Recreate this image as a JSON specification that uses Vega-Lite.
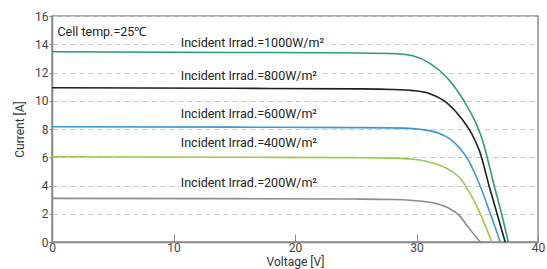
{
  "$schema": "https://vega.github.io/schema/vega-lite/v6.json",
  "autosize": "none",
  "width": 486,
  "height": 226,
  "padding": {"left": 52, "top": 16, "right": 9, "bottom": 27},
  "background": "white",
  "config": {
    "font": "Roboto",
    "view": {"stroke": "#8a8a8a", "strokeWidth": 1.5},
    "axis": {"labelOverlap": false, "labelFlush": false}
  },
  "datasets": {
    "curves": [
      {"series": "1000", "v": 0, "i": 13.47}, {"series": "1000", "v": 15, "i": 13.42}, {"series": "1000", "v": 25, "i": 13.38}, {"series": "1000", "v": 28.4, "i": 13.33}, {"series": "1000", "v": 29.7, "i": 13.18}, {"series": "1000", "v": 31.1, "i": 12.65}, {"series": "1000", "v": 32.5, "i": 11.65}, {"series": "1000", "v": 33.9, "i": 10.0}, {"series": "1000", "v": 34.95, "i": 8.3}, {"series": "1000", "v": 35.4, "i": 7.3}, {"series": "1000", "v": 36.4, "i": 3.97}, {"series": "1000", "v": 37.0, "i": 2.0}, {"series": "1000", "v": 37.55, "i": 0},
      {"series": "800", "v": 0, "i": 10.92}, {"series": "800", "v": 15, "i": 10.88}, {"series": "800", "v": 25, "i": 10.84}, {"series": "800", "v": 28, "i": 10.8}, {"series": "800", "v": 29.7, "i": 10.72}, {"series": "800", "v": 31.1, "i": 10.5}, {"series": "800", "v": 32.5, "i": 9.85}, {"series": "800", "v": 33.7, "i": 8.75}, {"series": "800", "v": 34.7, "i": 7.4}, {"series": "800", "v": 35.2, "i": 6.4}, {"series": "800", "v": 36.0, "i": 3.9}, {"series": "800", "v": 37.3, "i": 0},
      {"series": "600", "v": 0, "i": 8.16}, {"series": "600", "v": 15, "i": 8.13}, {"series": "600", "v": 25, "i": 8.1}, {"series": "600", "v": 29, "i": 8.06}, {"series": "600", "v": 30.3, "i": 7.98}, {"series": "600", "v": 31.9, "i": 7.68}, {"series": "600", "v": 32.9, "i": 7.2}, {"series": "600", "v": 33.6, "i": 6.6}, {"series": "600", "v": 34.3, "i": 5.75}, {"series": "600", "v": 35.2, "i": 4.05}, {"series": "600", "v": 36.0, "i": 2.2}, {"series": "600", "v": 36.9, "i": 0},
      {"series": "400", "v": 0, "i": 6.04}, {"series": "400", "v": 15, "i": 6.0}, {"series": "400", "v": 25, "i": 5.97}, {"series": "400", "v": 28, "i": 5.94}, {"series": "400", "v": 29.7, "i": 5.86}, {"series": "400", "v": 31.1, "i": 5.65}, {"series": "400", "v": 32.5, "i": 5.2}, {"series": "400", "v": 33.6, "i": 4.5}, {"series": "400", "v": 34.5, "i": 3.3}, {"series": "400", "v": 35.3, "i": 1.9}, {"series": "400", "v": 36.2, "i": 0},
      {"series": "200", "v": 0, "i": 3.09}, {"series": "200", "v": 15, "i": 3.07}, {"series": "200", "v": 25, "i": 3.04}, {"series": "200", "v": 28, "i": 3.01}, {"series": "200", "v": 31.1, "i": 2.82}, {"series": "200", "v": 32.6, "i": 2.42}, {"series": "200", "v": 33.5, "i": 1.9}, {"series": "200", "v": 34.3, "i": 1.0}, {"series": "200", "v": 35.25, "i": 0}
    ],
    "labels": [
      {"label": "Incident Irrad.=1000W/m²", "v": 10.6, "i": 14.07},
      {"label": "Incident Irrad.=800W/m²", "v": 10.6, "i": 11.73},
      {"label": "Incident Irrad.=600W/m²", "v": 10.6, "i": 9.06},
      {"label": "Incident Irrad.=400W/m²", "v": 10.6, "i": 6.99},
      {"label": "Incident Irrad.=200W/m²", "v": 10.6, "i": 4.16}
    ],
    "note": [
      {"label": "Cell temp.=25℃", "v": 0.45, "i": 14.89}
    ]
  },
  "encoding": {
    "x": {
      "field": "v", "type": "quantitative",
      "scale": {"domain": [0, 40], "nice": false, "zero": false},
      "axis": {
        "title": "Voltage [V]", "values": [0, 10, 20, 30, 40], "grid": false,
        "domainColor": "#8a8a8a", "domainWidth": 1.5,
        "tickColor": "#8a8a8a", "tickSize": -8, "tickWidth": 1,
        "labelPadding": 8, "labelFontSize": 12, "labelColor": "#444",
        "labelFlush": false, "labelOverlap": false,
        "titleFontSize": 12, "titleFontWeight": "normal", "titleColor": "#333", "titlePadding": 3
      }
    },
    "y": {
      "field": "i", "type": "quantitative",
      "scale": {"domain": [0, 16], "nice": false},
      "axis": {
        "title": "Current [A]", "values": [0, 2, 4, 6, 8, 10, 12, 14, 16],
        "labelOverlap": false,
        "grid": true, "gridColor": "#c8c8c8", "gridDash": [5, 4], "gridWidth": 1,
        "domainColor": "#8a8a8a", "domainWidth": 1.5,
        "tickColor": "#8a8a8a", "tickSize": 3,
        "labelPadding": 1, "labelFontSize": 12, "labelColor": "#444",
        "titleFontSize": 12, "titleFontWeight": "normal", "titleColor": "#333", "titlePadding": 8
      }
    }
  },
  "layer": [
    {
      "data": {"name": "curves"},
      "mark": {"type": "line", "interpolate": "monotone", "strokeWidth": 1.6},
      "encoding": {
        "color": {
          "field": "series", "type": "nominal",
          "scale": {"domain": ["1000", "800", "600", "400", "200"], "range": ["#2a9d78", "#1e1e1e", "#3a98d6", "#9cc94a", "#8c8c8c"]},
          "legend": null
        }
      }
    },
    {
      "data": {"name": "labels"},
      "mark": {"type": "text", "align": "left", "baseline": "middle", "fontSize": 12.5, "stroke": "white", "strokeWidth": 5, "fill": "white"},
      "encoding": {
        "text": {"field": "label"}
      }
    },
    {
      "data": {"name": "labels"},
      "mark": {"type": "text", "align": "left", "baseline": "middle", "fontSize": 12.5, "color": "#222"},
      "encoding": {
        "text": {"field": "label"}
      }
    },
    {
      "data": {"name": "note"},
      "mark": {"type": "text", "align": "left", "baseline": "middle", "fontSize": 12.5, "color": "#222"},
      "encoding": {
        "text": {"field": "label"}
      }
    }
  ]
}
